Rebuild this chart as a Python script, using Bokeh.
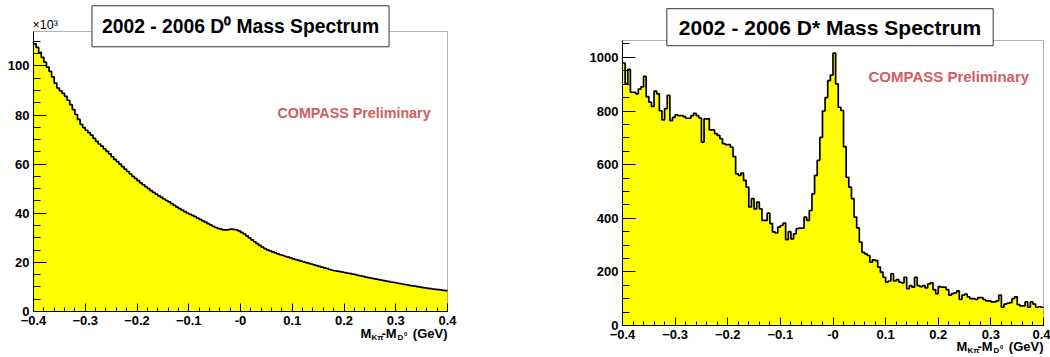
from bokeh.plotting import figure
from bokeh.models import Label, FixedTicker, Range1d, BoxAnnotation
from bokeh.layouts import row
from bokeh.embed import file_html
from bokeh.resources import INLINE

# ---------------- data ----------------
X_MIN, X_MAX = -0.4, 0.4
N_BINS = 160

# D0 spectrum, counts in units of 10^3 per bin
d0_counts_k = [
    109.0, 107.5, 105.5, 103.5, 101.5, 99.5, 97.8, 95.5, 93.0, 91.0,
    89.8, 88.8, 87.6, 86.0, 84.2, 82.2, 80.2, 78.2, 76.2, 74.9,
    73.8, 72.8, 71.8, 70.5, 69.3, 68.2, 67.3, 66.2, 65.2, 64.2,
    63.0, 61.9, 61.0, 60.0, 59.0, 58.0, 57.0, 56.0, 55.0, 54.2,
    53.3, 52.4, 51.6, 50.8, 50.0, 49.2, 48.5, 47.8, 47.1, 46.5,
    45.8, 45.2, 44.6, 43.9, 43.2, 42.5, 41.9, 41.3, 40.7, 40.1,
    39.6, 39.1, 38.6, 38.0, 37.5, 36.9, 36.4, 35.8, 35.3, 34.7,
    34.2, 33.8, 33.5, 33.2, 33.2, 33.3, 33.5, 33.4, 33.2, 32.8,
    32.2, 31.6, 30.8, 30.0, 29.2, 28.4, 27.6, 26.9, 26.2, 25.6,
    25.1, 24.7, 24.3, 23.9, 23.5, 23.1, 22.8, 22.4, 22.1, 21.8,
    21.4, 21.1, 20.8, 20.5, 20.2, 19.9, 19.6, 19.3, 19.0, 18.7,
    18.4, 18.1, 17.8, 17.5, 17.1, 16.8, 16.6, 16.4, 16.2, 16.0,
    15.8, 15.6, 15.4, 15.2, 15.0, 14.7, 14.5, 14.3, 14.0, 13.8,
    13.6, 13.4, 13.2, 13.0, 12.8, 12.6, 12.4, 12.2, 12.0, 11.8,
    11.6, 11.4, 11.2, 11.0, 10.8, 10.6, 10.4, 10.3, 10.1, 9.9,
    9.7, 9.6, 9.4, 9.3, 9.1, 9.0, 8.9, 8.8, 8.6, 8.5,
]

# D* spectrum, counts per bin
dstar_counts = [
    979, 902, 955, 870, 870, 864, 882, 890, 929, 854,
    833, 817, 874, 864, 801, 767, 809, 858, 764, 776,
    786, 783, 783, 779, 773, 773, 783, 791, 783, 774,
    684, 771, 771, 730, 730, 716, 709, 697, 678, 675,
    675, 665, 630, 566, 560, 568, 541, 516, 442, 473,
    435, 460, 435, 392, 392, 419, 380, 349, 345, 367,
    373, 382, 320, 350, 323, 342, 361, 363, 363, 404,
    392, 429, 491, 560, 616, 702, 800, 850, 913, 934,
    1016, 901, 814, 802, 667, 553, 516, 473, 404, 364,
    311, 273, 267, 261, 236, 245, 242, 218, 199, 180,
    162, 166, 193, 166, 171, 162, 159, 180, 137, 149,
    143, 180, 149, 145, 149, 140, 155, 159, 134, 119,
    145, 143, 143, 134, 113, 119, 122, 129, 97, 113,
    117, 107, 100, 100, 97, 104, 104, 97, 92, 92,
    88, 88, 92, 113, 68, 80, 83, 85, 100, 107,
    78, 73, 73, 88, 68, 88, 80, 68, 70, 68,
]

x_tick_values = [-0.4, -0.3, -0.2, -0.1, 0.0, 0.1, 0.2, 0.3, 0.4]
x_minor_values = [round(-0.4 + 0.02 * i, 2) for i in range(41)]
d0_y_max = 114
d0_y_ticks = [0, 20, 40, 60, 80, 100]
d0_y_minor = list(range(0, 115, 5))
dstar_y_max = 1063
dstar_y_ticks = [0, 200, 400, 600, 800, 1000]
dstar_y_minor = list(range(0, 1100, 50))

d0_title = "2002 - 2006 D\u2070 Mass Spectrum"
dstar_title = "2002 - 2006 D* Mass Spectrum"
watermark = "COMPASS Preliminary"

FONT = "Liberation Sans"
FILL = "#ffff00"
WM_COLOR = "#cf5e61"
H = 357


def txt(p, x, y_top, text, size, bold=True, color="black", align="left", **kw):
    """y_top: vertical centre of the text, in pixels from the canvas top."""
    p.add_layout(Label(x=x, y=H - y_top, x_units="screen", y_units="screen",
                       text=text, text_font=FONT, text_font_size=f"{size}px",
                       text_font_style="bold" if bold else "normal",
                       text_color=color, text_align=align,
                       text_baseline="middle", **kw))


def make_panel(counts, y_max, y_ticks, y_minor, w, h, box, y_tick_len):
    """box = (left, right, top, bottom) pixel position of the histogram box
    inside the canvas; the ranges are padded so that the whole canvas is
    the plotting frame (texts outside the box are then never clipped)."""
    bl, br, bt, bb = box
    sx = (br - bl) / (X_MAX - X_MIN)
    sy = (bb - bt) / y_max
    xr = Range1d(X_MIN - bl / sx, X_MAX + (w - br) / sx)
    yr = Range1d(0 - (h - bb) / sy, y_max + bt / sy)
    p = figure(width=w, height=h, min_border=0,
               x_range=xr, y_range=yr,
               output_backend="svg", toolbar_location=None)
    edges = [X_MIN + (X_MAX - X_MIN) * i / N_BINS for i in range(N_BINS + 1)]
    heights = list(counts) + [counts[-1]]
    p.varea_step(x=edges, y1=[0] * len(edges), y2=heights, step_mode="after",
                 fill_color=FILL)
    p.step(x=edges, y=heights, mode="after", line_color="black", line_width=1.7)

    p.xgrid.visible = False
    p.ygrid.visible = False
    p.outline_line_color = None
    p.background_fill_color = "white"
    p.border_fill_color = "white"

    p.add_layout(BoxAnnotation(left=X_MIN, right=X_MAX, bottom=0, top=y_max,
                               fill_color=None, line_color="black",
                               line_width=1))

    xa = p.xaxis[0]
    xa.fixed_location = 0
    xa.bounds = (X_MIN, X_MAX)
    xa.ticker = FixedTicker(ticks=x_tick_values, minor_ticks=x_minor_values)
    xa.major_label_overrides = {0: "-0"}
    xa.major_tick_in = 8
    xa.major_tick_out = 0
    xa.minor_tick_in = 4
    xa.minor_tick_out = 0
    xa.major_label_standoff = 4

    ya = p.yaxis[0]
    ya.fixed_location = X_MIN
    ya.bounds = (0, y_max)
    ya.ticker = FixedTicker(ticks=y_ticks, minor_ticks=y_minor)
    ya.major_tick_in = y_tick_len
    ya.major_tick_out = 0
    ya.minor_tick_in = 7
    ya.minor_tick_out = 0
    ya.major_label_standoff = 4

    for ax in (xa, ya):
        ax.axis_line_color = "black"
        ax.major_tick_line_color = "black"
        ax.minor_tick_line_color = "black"
        ax.major_label_text_font = FONT
        ax.major_label_text_font_style = "bold"
        ax.major_label_text_font_size = "13px"
        ax.major_label_text_color = "black"
    return p


def x_title(p, fr, yc, big, small):
    # M_{K pi} - M_{D^0} (GeV), placed from the box's right edge; yc = centre
    txt(p, fr - 87, yc, "M", big)
    txt(p, fr - 76, yc + 4, "K\u03c0", small)
    txt(p, fr - 66, yc, "-M", big)
    txt(p, fr - 50, yc + 4, "D", small)
    txt(p, fr - 43.5, yc + 0.5, "0", 6)
    txt(p, fr, yc, "(GeV)", big, align="right")


# ---------------- left panel: D0 (canvas x 0..560) ----------------
left = make_panel(d0_counts_k, d0_y_max, d0_y_ticks, d0_y_minor, 560, H,
                  (33, 447, 31, 311), 13)
txt(left, 32, 24.5, "\u00d710\u00b3", 12.5, bold=False)
txt(left, 240, 25.8, d0_title, 19.3, align="center",
    background_fill_color="white", border_line_color="#333333",
    border_line_width=1, padding=dict(left=10, right=10, top=10, bottom=10))
txt(left, 277, 112.5, watermark, 14.3, color=WM_COLOR)
x_title(left, 447, 332.5, 13, 8)

# ---------------- right panel: D* (canvas x 560..1050) ----------------
right = make_panel(dstar_counts, dstar_y_max, dstar_y_ticks, dstar_y_minor,
                   490, H, (62, 483, 40, 325), 13)
txt(right, 269.5, 26.7, dstar_title, 21, align="center",
    background_fill_color="white", border_line_color="#333333",
    border_line_width=1, padding=dict(left=12, right=12, top=7, bottom=7))
txt(right, 308, 76, watermark, 15, color=WM_COLOR)
x_title(right, 483, 345.5, 13, 8)

layout = row(left, right)
open("out.html", "w").write(file_html(layout, INLINE))
